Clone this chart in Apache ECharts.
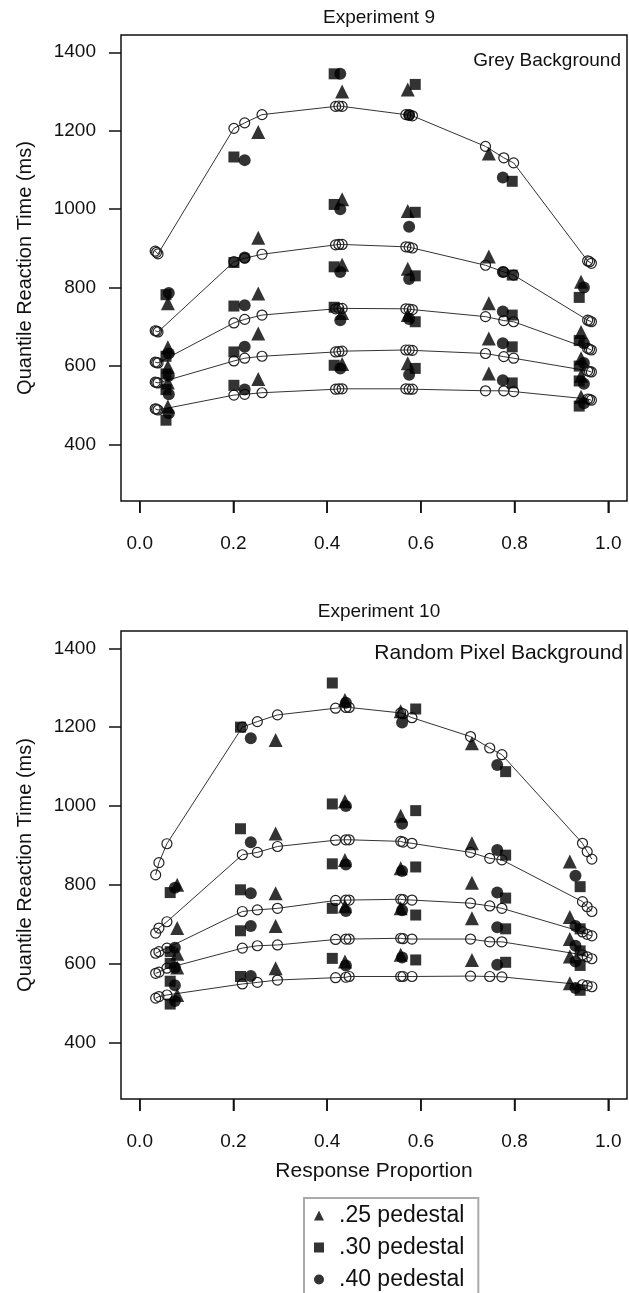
<!DOCTYPE html>
<html>
<head>
<meta charset="utf-8">
<script src="https://cdn.jsdelivr.net/npm/echarts@6/dist/echarts.min.js"></script>
<style>
html,body{margin:0;padding:0;background:#fff;}
#chart{width:629px;height:1293px;}
</style>
</head>
<body>
<div id="chart"></div>
<script>
// ---------- tick labels ----------
const xTicks = [0, 0.2, 0.4, 0.6, 0.8, 1.0];
const yTicks = [400, 600, 800, 1000, 1200, 1400];
const pedestals = ['.25 pedestal', '.30 pedestal', '.40 pedestal'];
const quantiles = ['.9', '.7', '.5', '.3', '.1'];

// ---------- Experiment 9 : model (open circles + lines) ----------
const exp9ModelX = [0.033, 0.036, 0.039, 0.201, 0.224, 0.261, 0.418, 0.425, 0.432, 0.568, 0.575, 0.582, 0.738, 0.777, 0.798, 0.956, 0.960, 0.964];
const exp9ModelQ90 = [893, 890, 886, 1206, 1220, 1241, 1262, 1263, 1262, 1241, 1240, 1238, 1160, 1131, 1118, 868, 866, 862];
const exp9ModelQ70 = [690, 689, 687, 866, 875, 885, 909, 910, 910, 904, 903, 901, 857, 840, 832, 717, 715, 713];
const exp9ModelQ50 = [610, 609, 608, 710, 719, 730, 746, 747, 747, 746, 745, 744, 726, 716, 713, 645, 643, 641];
const exp9ModelQ30 = [559, 558, 557, 613, 620, 625, 636, 637, 638, 641, 641, 640, 632, 624, 620, 588, 586, 585];
const exp9ModelQ10 = [491, 490, 488, 526, 528, 532, 541, 542, 542, 542, 541, 541, 537, 537, 535, 516, 515, 513];

// ---------- Experiment 9 : data (rows = quantiles .9,.7,.5,.3,.1) ----------
const exp9P25X = [0.060, 0.253, 0.432, 0.572, 0.745, 0.942];
const exp9P25RT = [
  [760, 1197, 1300, 1305, 1142, 815],
  [648, 927, 1025, 995, 879, 687],
  [598, 785, 858, 848, 760, 620],
  [558, 683, 735, 730, 670, 575],
  [497, 567, 605, 607, 581, 522]
];
const exp9P30X = [0.056, 0.201, 0.415, 0.588, 0.795, 0.938];
const exp9P30RT = [
  [782, 1133, 1345, 1318, 1071, 775],
  [625, 864, 1012, 992, 832, 665],
  [580, 753, 853, 830, 730, 600],
  [540, 636, 750, 713, 649, 562],
  [462, 551, 602, 594, 557, 498]
];
const exp9P40X = [0.062, 0.224, 0.428, 0.575, 0.775, 0.948];
const exp9P40RT = [
  [786, 1125, 1345, 1240, 1081, 800],
  [632, 877, 1000, 955, 840, 658],
  [575, 755, 840, 822, 739, 608],
  [528, 649, 717, 720, 658, 555],
  [480, 540, 594, 578, 564, 505]
];

// ---------- Experiment 10 : model ----------
const exp10ModelX = [0.034, 0.041, 0.058, 0.219, 0.251, 0.294, 0.418, 0.440, 0.447, 0.557, 0.562, 0.581, 0.706, 0.747, 0.773, 0.945, 0.955, 0.965];
const exp10ModelQ90 = [825, 856, 904, 1200, 1214, 1231, 1248, 1250, 1250, 1236, 1234, 1224, 1176, 1147, 1130, 905, 884, 865];
const exp10ModelQ70 = [677, 690, 706, 876, 882, 897, 913, 914, 914, 910, 908, 905, 882, 867, 863, 757, 744, 732];
const exp10ModelQ50 = [626, 630, 639, 732, 736, 740, 760, 761, 761, 763, 762, 761, 753, 746, 740, 680, 674, 670];
const exp10ModelQ30 = [575, 578, 588, 639, 645, 647, 661, 662, 662, 664, 663, 662, 662, 655, 655, 622, 617, 612];
const exp10ModelQ10 = [512, 516, 520, 548, 552, 558, 564, 565, 567, 567, 567, 567, 568, 567, 566, 546, 544, 541];

// ---------- Experiment 10 : data ----------
const exp10P25X = [0.080, 0.290, 0.438, 0.557, 0.709, 0.918];
const exp10P25RT = [
  [800, 1167, 1269, 1240, 1159, 859],
  [690, 930, 1012, 975, 905, 718],
  [625, 778, 863, 842, 805, 662],
  [590, 695, 745, 740, 715, 618],
  [520, 588, 605, 622, 609, 550]
];
const exp10P30X = [0.065, 0.215, 0.411, 0.589, 0.781, 0.940];
const exp10P30RT = [
  [780, 1200, 1312, 1246, 1087, 795],
  [630, 942, 1005, 988, 875, 688],
  [600, 787, 853, 845, 766, 632],
  [555, 683, 740, 723, 688, 595],
  [497, 567, 613, 609, 603, 532]
];
const exp10P40X = [0.075, 0.237, 0.440, 0.560, 0.763, 0.930];
const exp10P40RT = [
  [792, 1172, 1262, 1212, 1104, 823],
  [640, 908, 1000, 955, 888, 695],
  [590, 778, 851, 835, 780, 645],
  [545, 695, 733, 735, 692, 605],
  [505, 568, 595, 615, 597, 538]
];

// ---------- build ----------
const PCT = 100;
const X_MIN = -4, X_MAX = 104;
const Y_MIN = 256, Y_MAX = 1444;
const FONT = "'Liberation Sans', Arial, Helvetica, sans-serif";
const INK = '#111';
const xTickPct = xTicks.map(t => Math.round(t * PCT));

function modelSeries(idx, xs, qs) {
  return qs.map((q, k) => ({
    type: 'line',
    name: 'model ' + quantiles[k],
    xAxisIndex: idx, yAxisIndex: idx,
    data: xs.map((x, i) => [x * PCT, q[i]]),
    symbol: 'circle', symbolSize: 10, showAllSymbol: true,
    lineStyle: { color: '#333', width: 1 },
    itemStyle: { color: 'rgba(255,255,255,0)', borderColor: '#222', borderWidth: 1.2 },
    z: 2, silent: true
  }));
}
function dataSeries(idx, name, symbol, size, xs, rts) {
  const pts = [];
  rts.forEach(row => row.forEach((v, i) => pts.push([xs[i] * PCT, v])));
  return {
    type: 'scatter', name: name, xAxisIndex: idx, yAxisIndex: idx,
    symbol: symbol, symbolSize: size, data: pts,
    itemStyle: { color: '#000' }, z: 3, silent: true
  };
}
function xAxis(idx, withName) {
  return {
    type: 'value', gridIndex: idx, min: X_MIN, max: X_MAX,
    axisLine: { show: false, onZero: false },
    splitLine: { show: false },
    axisTick: { show: true, length: 12, customValues: xTickPct, lineStyle: { color: INK, width: 1.5 } },
    axisLabel: { customValues: xTickPct, formatter: v => (v / PCT).toFixed(1), margin: 33, fontSize: 19, color: INK, fontFamily: FONT },
    name: withName ? 'Response Proportion' : '',
    nameLocation: 'middle', nameGap: 62,
    nameTextStyle: { fontSize: 21, color: INK, fontFamily: FONT }
  };
}
function yAxis(idx) {
  return {
    type: 'value', gridIndex: idx, min: Y_MIN, max: Y_MAX,
    axisLine: { show: false, onZero: false },
    splitLine: { show: false },
    axisTick: { show: true, length: 12, customValues: yTicks, lineStyle: { color: INK, width: 1.5 } },
    axisLabel: { customValues: yTicks, formatter: v => String(v), margin: 25, fontSize: 19, color: INK, fontFamily: FONT },
    name: 'Quantile Reaction Time (ms)', nameLocation: 'middle', nameGap: 86,
    nameTextStyle: { fontSize: 20, color: INK, fontFamily: FONT }
  };
}

const textGraphics = [
  { id: 'lblGrey', type: 'text', right: 8, top: 51, style: { text: 'Grey Background', fontSize: 19, fill: INK, fontFamily: FONT } },
  { id: 'lblRandom', type: 'text', right: 6, top: 643, style: { text: 'Random Pixel Background', fontSize: 21, fill: INK, fontFamily: FONT } }
];

const option = {
  animation: false,
  backgroundColor: '#fff',
  textStyle: { fontFamily: FONT },
  title: [
    { text: 'Experiment 9', left: 374, top: 3, textAlign: 'center', textStyle: { fontSize: 19, fontWeight: 'normal', color: INK, fontFamily: FONT } },
    { text: 'Experiment 10', left: 374, top: 597, textAlign: 'center', textStyle: { fontSize: 19, fontWeight: 'normal', color: INK, fontFamily: FONT } }
  ],
  grid: [
    { left: 121, top: 35, width: 506, height: 466, show: true, borderColor: INK, borderWidth: 1.5, backgroundColor: 'transparent' },
    { left: 121, top: 631, width: 506, height: 468, show: true, borderColor: INK, borderWidth: 1.5, backgroundColor: 'transparent' }
  ],
  xAxis: [xAxis(0, false), xAxis(1, true)],
  yAxis: [yAxis(0), yAxis(1)],
  legend: {
    data: [
      { name: pedestals[0], icon: 'triangle' },
      { name: pedestals[1], icon: 'rect' },
      { name: pedestals[2], icon: 'circle' }
    ],
    orient: 'vertical', left: 304, top: 1198, height: 95,
    itemWidth: 10, itemHeight: 10, itemGap: 9,
    padding: [6, 14, 6, 10],
    borderColor: '#aaa', borderWidth: 2,
    selectedMode: false,
    textStyle: { fontSize: 23, lineHeight: 20, color: INK, fontFamily: FONT, padding: [0, 0, 0, 10] }
  },
  graphic: textGraphics,
  series: [
    ...modelSeries(0, exp9ModelX, [exp9ModelQ90, exp9ModelQ70, exp9ModelQ50, exp9ModelQ30, exp9ModelQ10]),
    dataSeries(0, pedestals[0], 'triangle', 14, exp9P25X, exp9P25RT),
    dataSeries(0, pedestals[1], 'rect', 11, exp9P30X, exp9P30RT),
    dataSeries(0, pedestals[2], 'circle', 12, exp9P40X, exp9P40RT),
    ...modelSeries(1, exp10ModelX, [exp10ModelQ90, exp10ModelQ70, exp10ModelQ50, exp10ModelQ30, exp10ModelQ10]),
    dataSeries(1, pedestals[0], 'triangle', 14, exp10P25X, exp10P25RT),
    dataSeries(1, pedestals[1], 'rect', 11, exp10P30X, exp10P30RT),
    dataSeries(1, pedestals[2], 'circle', 12, exp10P40X, exp10P40RT)
  ]
};

const chart = echarts.init(document.getElementById('chart'), null, { renderer: 'canvas' });
chart.setOption(option);

// x-axis tick marks: placed through the chart's own scales (convertToPixel)
const tickLines = [];
[0, 1].forEach(idx => {
  xTickPct.forEach((v, k) => {
    const p = chart.convertToPixel({ xAxisIndex: idx, yAxisIndex: idx }, [v, Y_MIN]);
    if (p && isFinite(p[0]) && isFinite(p[1])) {
      tickLines.push({
        id: 'xtick_' + idx + '_' + k, type: 'line', z: 50, silent: true,
        shape: { x1: p[0], y1: p[1], x2: p[0], y2: p[1] + 12 },
        style: { stroke: INK, lineWidth: 1.5 }
      });
    }
  });
});
chart.setOption({ graphic: textGraphics.concat(tickLines) });
</script>
</body>
</html>
